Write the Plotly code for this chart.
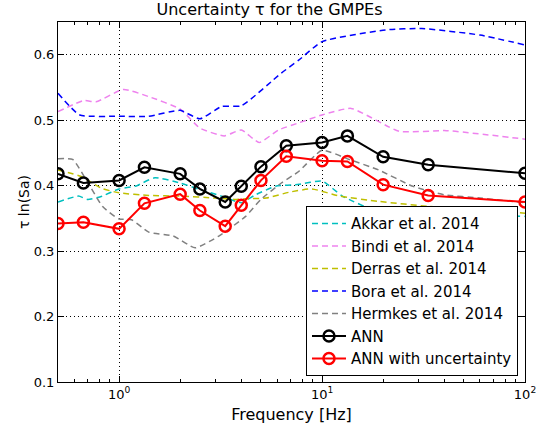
import plotly.graph_objects as go

# ANN frequencies and values
ann_freq = [0.5, 0.667, 1.0, 1.333, 2.0, 2.5, 3.333, 4.0, 5.0, 6.667, 10, 13.333, 20, 33.333, 100]
ann_tau = [0.418, 0.404, 0.408, 0.428, 0.418, 0.395, 0.375, 0.399, 0.429, 0.461, 0.466, 0.476, 0.444, 0.432, 0.419]
ann_unc_tau = [0.342, 0.344, 0.334, 0.373, 0.387, 0.362, 0.338, 0.370, 0.408, 0.445, 0.438, 0.437, 0.4015, 0.385, 0.375]

# GMPEs
akkar_freq = [0.5, 0.63, 0.7, 0.81, 1.0, 1.2, 1.5, 2.0, 2.5, 3.2, 4.0, 4.7, 5.9, 7.7, 10, 12.6, 18.4, 25, 32, 60, 100]
akkar_tau = [0.375, 0.384, 0.379, 0.383, 0.395, 0.399, 0.412, 0.404, 0.394, 0.384, 0.374, 0.386, 0.399, 0.402, 0.407, 0.384, 0.361, 0.349, 0.358, 0.356, 0.353]

bindi_freq = [0.5, 0.67, 0.77, 1.05, 1.4, 2.0, 2.5, 3.3, 4.0, 4.9, 6.1, 7.7, 10, 13.9, 24, 41, 100]
bindi_tau = [0.513, 0.530, 0.528, 0.547, 0.536, 0.517, 0.488, 0.476, 0.485, 0.466, 0.485, 0.496, 0.508, 0.518, 0.483, 0.484, 0.471]

derras_freq = [0.5, 0.65, 0.82, 1.0, 1.4, 2.0, 3.0, 3.7, 4.2, 5.3, 6.9, 8.9, 12.2, 19, 34, 60, 100]
derras_tau = [0.424, 0.414, 0.396, 0.389, 0.385, 0.384, 0.381, 0.379, 0.380, 0.381, 0.390, 0.395, 0.384, 0.376, 0.368, 0.363, 0.358]

bora_freq = [0.5, 0.64, 1.0, 1.4, 2.0, 2.5, 3.2, 4.0, 6.3, 7.7, 10, 20.7, 31, 60, 100]
bora_tau = [0.541, 0.508, 0.506, 0.506, 0.515, 0.502, 0.521, 0.522, 0.572, 0.592, 0.62, 0.638, 0.640, 0.630, 0.615]

hermkes_freq = [0.5, 0.59, 0.70, 0.83, 1.0, 1.15, 1.4, 1.85, 2.37, 3.1, 4.2, 5.0, 6.3, 7.7, 10, 13.6, 19, 28, 40, 60, 100]
hermkes_tau = [0.441, 0.440, 0.405, 0.368, 0.349, 0.348, 0.329, 0.323, 0.305, 0.323, 0.353, 0.379, 0.404, 0.422, 0.454, 0.440, 0.424, 0.399, 0.386, 0.381, 0.374]

y_ticks = [0.1, 0.2, 0.3, 0.4, 0.5, 0.6]
y_ticktext = ["0.1", "0.2", "0.3", "0.4", "0.5", "0.6"]
x_tickvals = [1, 10, 100]
x_ticktext = ["10<sup>0</sup>", "10<sup>1</sup>", "10<sup>2</sup>"]
minor_vals = [0.5, 0.6, 0.7, 0.8, 0.9, 2, 3, 4, 5, 6, 7, 8, 9, 20, 30, 40, 50, 60, 70, 80, 90]

FONT = "DejaVu Sans"
fig = go.Figure()

gmpes = [
    ("Akkar et al. 2014", akkar_freq, akkar_tau, "#00BFBF"),
    ("Bindi et al. 2014", bindi_freq, bindi_tau, "#EE82EE"),
    ("Derras et al. 2014", derras_freq, derras_tau, "#BFBF00"),
    ("Bora et al. 2014", bora_freq, bora_tau, "#0000FF"),
    ("Hermkes et al. 2014", hermkes_freq, hermkes_tau, "#808080"),
]
for name, f, t, c in gmpes:
    fig.add_trace(go.Scatter(x=f, y=t, mode="lines", name=name,
                             line=dict(color=c, width=1.5, dash="6px,4px", shape="spline", smoothing=0.5)))

fig.add_trace(go.Scatter(x=ann_freq, y=ann_tau, mode="lines+markers", name="ANN",
                         line=dict(color="black", width=2),
                         marker=dict(symbol="circle-open", size=11, color="black", line=dict(width=2.5))))
fig.add_trace(go.Scatter(x=ann_freq, y=ann_unc_tau, mode="lines+markers", name="ANN with uncertainty",
                         line=dict(color="red", width=2),
                         marker=dict(symbol="circle-open", size=11, color="red", line=dict(width=2.5))))

fig.update_layout(
    width=539, height=435, autosize=False,
    margin=dict(l=58, r=14, t=22, b=53, autoexpand=False),
    paper_bgcolor="white", plot_bgcolor="white",
    font=dict(family=FONT, size=13, color="black"),
    title=dict(text="Uncertainty \u03c4 for the GMPEs", x=0.5, xanchor="center",
               y=0.978, yanchor="middle", font=dict(size=16, family=FONT)),
    showlegend=True,
    legend=dict(x=0.985, y=0.016, xanchor="right", yanchor="bottom",
                bordercolor="black", borderwidth=1, bgcolor="white",
                font=dict(size=15, family=FONT), tracegroupgap=0,
                itemwidth=34),
)

fig.update_xaxes(
    type="log", range=[-0.30103, 2], automargin=False,
    tickvals=x_tickvals, ticktext=x_ticktext,
    ticks="inside", ticklen=6, tickwidth=1, tickcolor="black",
    showline=True, linecolor="black", linewidth=1, mirror="allticks",
    showgrid=True, gridcolor="black", griddash="1px,3px", gridwidth=1,
    zeroline=False,
    minor=dict(tickvals=minor_vals, ticks="inside", ticklen=3, tickcolor="black", showgrid=False),
    title=dict(text="Frequency [Hz]", font=dict(size=16, family=FONT), standoff=8),
    tickfont=dict(size=13, family=FONT),
)
fig.update_yaxes(
    range=[0.1, 0.65], automargin=False, tickvals=y_ticks, ticktext=y_ticktext,
    ticks="inside", ticklen=6, tickwidth=1, tickcolor="black",
    showline=True, linecolor="black", linewidth=1, mirror="allticks",
    showgrid=True, gridcolor="black", griddash="1px,3px", gridwidth=1,
    zeroline=False,
    title=dict(text="\u03c4 ln(Sa)", font=dict(size=14, family=FONT), standoff=0),
    tickfont=dict(size=13, family=FONT),
)

fig.write_html("out.html", config={"displayModeBar": False},
               post_script="document.body.style.margin='0';")
